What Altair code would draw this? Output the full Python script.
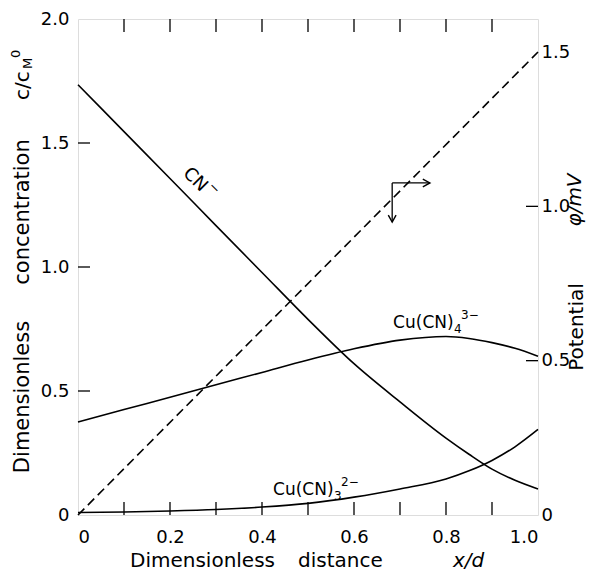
import altair as alt
import pandas as pd

# ---- data ----
x_pts = [0.0, 0.1, 0.2, 0.3, 0.4, 0.5, 0.6, 0.7, 0.8, 0.85, 0.9, 0.95, 1.0]
cn_vals = [1.735, 1.546, 1.357, 1.167, 0.978, 0.789, 0.61, 0.456, 0.31, 0.245, 0.185, 0.14, 0.105]
cu4_vals = [0.375, 0.425, 0.475, 0.525, 0.575, 0.625, 0.67, 0.705, 0.72, 0.712, 0.695, 0.672, 0.64]
cu3_vals = [0.01, 0.012, 0.016, 0.022, 0.032, 0.047, 0.072, 0.105, 0.145, 0.178, 0.22, 0.275, 0.345]

phi_x = [0.0, 1.0]
phi_vals = [0.0, 1.5]

x_label_vals = [0, 0.2, 0.4, 0.6, 0.8, 1.0]
x_minor = [0.1, 0.2, 0.3, 0.4, 0.5, 0.6, 0.7, 0.8, 0.9]
left_vals = [0, 0.5, 1.0, 1.5, 2.0]
left_inner = [0.5, 1.0, 1.5]
right_vals = [0, 0.5, 1.0, 1.5]
right_inner = [0.5, 1.0]

arrow_x = [0.683, 0.765]
arrow_y = [1.339, 1.181]

label_x = [0.685, 0.424]
label_y = [0.754, 0.08]
label_main = ["Cu(CN)", "Cu(CN)"]
label_sub = ["4", "3"]
label_sup = ["3\u2212", "2\u2212"]

cn_label_x = [0.259]
cn_label_y = [1.343]

W, H = 460, 496
FONT = "DejaVu Sans"

rows = []
for name, vals in [("CN", cn_vals), ("Cu4", cu4_vals), ("Cu3", cu3_vals)]:
    for xv, yv in zip(x_pts, vals):
        rows.append({"x": xv, "c": yv, "species": name})
conc = pd.DataFrame(rows)
pot = pd.DataFrame({"x": phi_x, "phi": phi_vals})

xs = alt.Scale(domain=[0, 1], nice=False, zero=False)
ys = alt.Scale(domain=[0, 2], nice=False)
rs = alt.Scale(domain=[0, 1.607], nice=False)

fmt = "datum.value == 0 ? '0' : format(datum.value, '.1f')"

lines = alt.Chart(conc).mark_line(color="black", strokeWidth=1.6, interpolate="monotone").encode(
    x=alt.X("x:Q", scale=xs, axis=alt.Axis(values=x_label_vals, labelExpr=fmt, title=None, ticks=False,
                                           domain=False, grid=False, labelFontSize=18, labelFont=FONT,
                                           labelPadding=13, labelColor="black")),
    y=alt.Y("c:Q", scale=ys, axis=alt.Axis(values=left_vals, labelExpr=fmt, title=None, ticks=False,
                                           domain=False, grid=False, labelFontSize=18, labelFont=FONT,
                                           labelPadding=9, labelColor="black")),
    detail="species:N",
)

dashed = alt.Chart(pot).mark_line(color="black", strokeWidth=1.6, strokeDash=[9, 5]).encode(
    x=alt.X("x:Q", scale=xs),
    y=alt.Y("phi:Q", scale=rs, axis=alt.Axis(orient="right", values=right_vals, labelExpr=fmt, title=None,
                                             ticks=False, domain=False, grid=False, labelFontSize=18,
                                             labelFont=FONT, labelPadding=3, labelColor="black")),
)

xt = pd.DataFrame({"x": x_minor})
bottom_ticks = alt.Chart(xt).mark_rule(color="black", strokeWidth=1.3).encode(
    x=alt.X("x:Q", scale=xs), y=alt.value(H), y2=alt.value(H - 13))
top_ticks = alt.Chart(xt).mark_rule(color="black", strokeWidth=1.3).encode(
    x=alt.X("x:Q", scale=xs), y=alt.value(0), y2=alt.value(13))
left_ticks = alt.Chart(pd.DataFrame({"v": left_inner})).mark_rule(color="black", strokeWidth=1.3).encode(
    y=alt.Y("v:Q", scale=ys, axis=None), x=alt.value(0), x2=alt.value(12))
right_ticks = alt.Chart(pd.DataFrame({"v": right_inner})).mark_rule(color="black", strokeWidth=1.3).encode(
    y=alt.Y("v:Q", scale=rs, axis=None), x=alt.value(W), x2=alt.value(W - 12))

# arrows
ad = pd.DataFrame({"x0": [arrow_x[0]], "x1": [arrow_x[1]], "y0": [arrow_y[0]], "y1": [arrow_y[1]]})
h_arrow = alt.Chart(ad).mark_rule(color="black", strokeWidth=1.3).encode(
    x=alt.X("x0:Q", scale=xs), x2="x1:Q", y=alt.Y("y0:Q", scale=ys, axis=None))
v_arrow = alt.Chart(ad).mark_rule(color="black", strokeWidth=1.3).encode(
    x=alt.X("x0:Q", scale=xs), y=alt.Y("y0:Q", scale=ys, axis=None), y2="y1:Q")
h_head = alt.Chart(ad).mark_point(shape="M-1,-0.55L0,0L-1,0.55", filled=False, color="black",
                                  strokeWidth=1.4, size=200, opacity=1).encode(
    x=alt.X("x1:Q", scale=xs), y=alt.Y("y0:Q", scale=ys, axis=None))
v_head = alt.Chart(ad).mark_point(shape="M-0.55,-1L0,0L0.55,-1", filled=False, color="black",
                                  strokeWidth=1.4, size=200, opacity=1).encode(
    x=alt.X("x0:Q", scale=xs), y=alt.Y("y1:Q", scale=ys, axis=None))

# curve labels
cn_df = pd.DataFrame({"x": cn_label_x, "y": cn_label_y, "t": ["CN"], "m": ["\u2212"]})
cn_lab = alt.Chart(cn_df).mark_text(font=FONT, fontSize=18, angle=45, align="left",
                                    baseline="middle", color="black", dx=-16).encode(
    x=alt.X("x:Q", scale=xs), y=alt.Y("y:Q", scale=ys, axis=None), text="t:N")
cn_min = alt.Chart(cn_df).mark_text(font=FONT, fontSize=13, angle=45, align="left",
                                    baseline="middle", color="black", dx=11, dy=-8).encode(
    x=alt.X("x:Q", scale=xs), y=alt.Y("y:Q", scale=ys, axis=None), text="m:N")

ldf = pd.DataFrame({"x": label_x, "y": label_y, "m": label_main, "s": label_sub, "p": label_sup})
cu_main = alt.Chart(ldf).mark_text(font=FONT, fontSize=17, align="left", baseline="alphabetic",
                                   color="black").encode(
    x=alt.X("x:Q", scale=xs), y=alt.Y("y:Q", scale=ys, axis=None), text="m:N")
cu_sub = alt.Chart(ldf).mark_text(font=FONT, fontSize=12, align="left", baseline="alphabetic",
                                  color="black", dx=61, dy=5).encode(
    x=alt.X("x:Q", scale=xs), y=alt.Y("y:Q", scale=ys, axis=None), text="s:N")
cu_sup = alt.Chart(ldf).mark_text(font=FONT, fontSize=12, align="left", baseline="alphabetic",
                                  color="black", dx=68, dy=-9).encode(
    x=alt.X("x:Q", scale=xs), y=alt.Y("y:Q", scale=ys, axis=None), text="p:N")

# axis titles as text
def ttl(text, x, y, size=20, angle=0, align="center", baseline="middle", style="normal"):
    return alt.Chart(pd.DataFrame({"t": [text]})).mark_text(
        font=FONT, fontSize=size, angle=angle, align=align, baseline=baseline,
        fontStyle=style, color="black").encode(text="t:N", x=alt.value(x), y=alt.value(y))

t1 = ttl("Dimensionless", 52, 548, align="left", baseline="alphabetic")
t1b = ttl("distance", 220, 548, align="left", baseline="alphabetic")
t2 = ttl("x/d", 375, 548, align="left", baseline="alphabetic", style="italic")
t3 = ttl("Dimensionless", -55, 378, size=21, angle=270)
t4 = ttl("concentration", -55, 193, size=21, angle=270)
t5 = ttl("c/c", -55, 81, size=20, angle=270, align="left")
t6 = ttl("M", -50, 50, size=13, angle=270, align="left")
t7 = ttl("0", -62, 39, size=13, angle=270, align="left")
t8 = ttl("Potential", 499, 308, size=20, angle=270)
t9 = ttl("\u03c6/mV", 497, 181, size=20, angle=270, style="italic")

chart = alt.layer(
    lines, dashed, bottom_ticks, top_ticks, left_ticks, right_ticks,
    h_arrow, v_arrow, h_head, v_head, cn_lab, cn_min, cu_main, cu_sub, cu_sup,
    t1, t1b, t2, t3, t4, t5, t6, t7, t8, t9,
).resolve_scale(y="independent").properties(
    width=W, height=H,
    autosize=alt.AutoSizeParams(type="none"),
    padding={"left": 70, "top": 11, "right": 51, "bottom": 57},
).configure_view(stroke="black", strokeWidth=1.5).configure(background="white")

chart.save("out.html", embed_options={"renderer": "svg", "actions": False})
